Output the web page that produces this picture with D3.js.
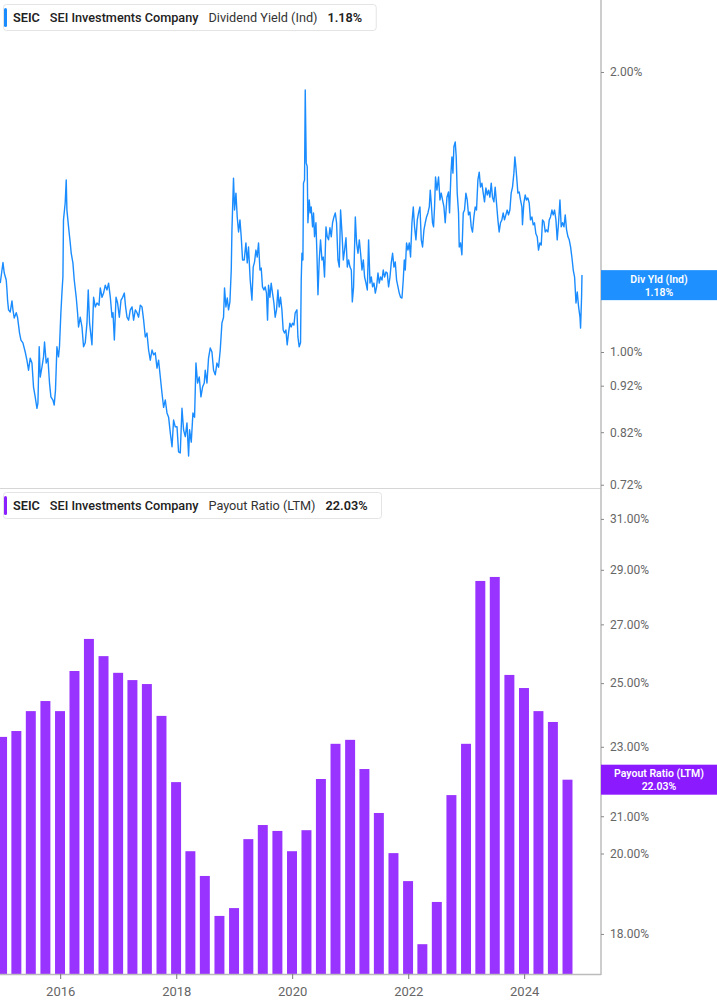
<!DOCTYPE html>
<html>
<head>
<meta charset="utf-8">
<script src="https://cdn.jsdelivr.net/npm/d3@7"></script>
<style>
  body { margin: 0; background: #fff; font-family: Roboto, "Noto Sans", sans-serif; }
</style>
</head>
<body>
<div id="chart"></div>
<script>
// dividend yield (Ind), % - dates as decimal years
const yieldT = [
  2014.966,2015.013,2015.035,2015.069,2015.082,2015.092,2015.109,2015.138,2015.168,2015.185,
  2015.207,2015.242,2015.264,2015.299,2015.323,2015.357,2015.397,2015.426,2015.454,2015.483,
  2015.513,2015.540,2015.569,2015.599,2015.616,2015.638,2015.656,2015.685,2015.713,2015.730,
  2015.759,2015.788,2015.816,2015.840,2015.875,2015.897,2015.919,2015.944,2015.971,2015.988,
  2016.012,2016.030,2016.047,2016.057,2016.086,2016.104,2016.116,2016.144,2016.173,2016.190,
  2016.219,2016.242,2016.276,2016.299,2016.316,2016.345,2016.375,2016.402,2016.431,2016.461,
  2016.483,2016.506,2016.547,2016.575,2016.604,2016.633,2016.668,2016.690,2016.720,2016.747,
  2016.776,2016.806,2016.833,2016.863,2016.892,2016.909,2016.932,2016.961,2016.988,2017.018,
  2017.047,2017.075,2017.104,2017.126,2017.150,2017.178,2017.207,2017.237,2017.264,2017.294,
  2017.323,2017.350,2017.380,2017.409,2017.437,2017.466,2017.495,2017.523,2017.552,2017.582,
  2017.609,2017.638,2017.668,2017.695,2017.725,2017.754,2017.782,2017.811,2017.840,2017.868,
  2017.897,2017.927,2017.954,2017.983,2018.013,2018.040,2018.069,2018.099,2018.126,2018.156,
  2018.185,2018.213,2018.230,2018.259,2018.288,2018.316,2018.340,2018.368,2018.397,2018.426,
  2018.454,2018.483,2018.500,2018.530,2018.557,2018.587,2018.616,2018.644,2018.673,2018.702,
  2018.730,2018.759,2018.788,2018.816,2018.833,2018.857,2018.880,2018.902,2018.926,2018.949,
  2018.961,2018.978,2018.988,2019.006,2019.030,2019.052,2019.075,2019.099,2019.121,2019.144,
  2019.173,2019.202,2019.225,2019.247,2019.276,2019.306,2019.328,2019.351,2019.375,2019.397,
  2019.420,2019.444,2019.466,2019.488,2019.513,2019.535,2019.557,2019.575,2019.592,2019.616,
  2019.638,2019.661,2019.685,2019.707,2019.730,2019.754,2019.776,2019.799,2019.823,2019.845,
  2019.868,2019.892,2019.914,2019.937,2019.961,2019.983,2020.006,2020.030,2020.052,2020.082,
  2020.099,2020.121,2020.144,2020.156,2020.168,2020.185,2020.195,2020.213,2020.225,2020.242,
  2020.259,2020.271,2020.294,2020.311,2020.328,2020.351,2020.368,2020.385,2020.409,2020.426,
  2020.444,2020.466,2020.488,2020.513,2020.535,2020.557,2020.582,2020.604,2020.626,2020.650,
  2020.673,2020.695,2020.719,2020.742,2020.764,2020.788,2020.811,2020.833,2020.857,2020.880,
  2020.902,2020.926,2020.949,2020.971,2020.995,2021.018,2021.035,2021.057,2021.087,2021.109,
  2021.133,2021.156,2021.178,2021.202,2021.225,2021.247,2021.271,2021.294,2021.316,2021.340,
  2021.363,2021.385,2021.409,2021.432,2021.454,2021.478,2021.500,2021.523,2021.547,2021.569,
  2021.592,2021.616,2021.638,2021.661,2021.685,2021.707,2021.730,2021.754,2021.776,2021.799,
  2021.823,2021.845,2021.868,2021.892,2021.914,2021.932,2021.949,2021.971,2021.995,2022.018,
  2022.040,2022.064,2022.087,2022.109,2022.133,2022.156,2022.178,2022.202,2022.225,2022.247,
  2022.271,2022.294,2022.316,2022.340,2022.363,2022.380,2022.397,2022.419,2022.437,2022.454,
  2022.471,2022.495,2022.523,2022.547,2022.569,2022.592,2022.616,2022.638,2022.668,2022.695,
  2022.713,2022.737,2022.754,2022.771,2022.788,2022.811,2022.828,2022.845,2022.868,2022.880,
  2022.902,2022.926,2022.949,2022.971,2022.995,2023.018,2023.040,2023.064,2023.087,2023.109,
  2023.133,2023.156,2023.178,2023.202,2023.225,2023.247,2023.271,2023.294,2023.316,2023.340,
  2023.363,2023.385,2023.409,2023.432,2023.454,2023.478,2023.500,2023.523,2023.547,2023.569,
  2023.592,2023.616,2023.638,2023.661,2023.685,2023.707,2023.730,2023.754,2023.776,2023.799,
  2023.823,2023.840,2023.857,2023.875,2023.892,2023.914,2023.937,2023.961,2023.971,2023.995,
  2024.018,2024.040,2024.064,2024.087,2024.109,2024.133,2024.156,2024.178,2024.202,2024.225,
  2024.247,2024.271,2024.294,2024.316,2024.340,2024.363,2024.385,2024.409,2024.432,2024.454,
  2024.478,2024.500,2024.523,2024.547,2024.569,2024.592,2024.616,2024.638,2024.661,2024.685,
  2024.707,2024.730,2024.754,2024.776,2024.799,2024.823,2024.845,2024.868,2024.892,2024.914,
  2024.937,2024.961,2024.971,2024.988,2024.995
];
const yieldValues = [
  1.186,1.248,1.216,1.195,1.166,1.137,1.110,1.104,1.135,1.110,
  1.088,1.102,1.090,1.048,1.030,1.023,1.000,0.980,0.956,0.985,
  0.973,0.917,0.895,0.870,0.881,1.013,0.940,0.963,0.988,1.025,
  0.973,0.985,0.926,0.895,0.888,0.877,0.910,1.013,0.988,1.013,
  1.102,1.157,1.204,1.387,1.446,1.531,1.421,1.363,1.310,1.277,
  1.247,1.195,1.145,1.102,1.064,1.090,1.064,1.013,1.023,1.074,
  1.166,1.074,1.018,1.145,1.118,1.129,1.123,1.172,1.145,1.157,
  1.180,1.166,1.186,1.145,1.090,1.102,1.030,1.145,1.129,1.090,
  1.137,1.145,1.157,1.118,1.090,1.082,1.110,1.118,1.082,1.110,
  1.102,1.090,1.123,1.118,1.082,1.038,1.048,1.005,0.980,1.005,
  0.993,0.998,0.961,0.980,0.940,0.903,0.872,0.888,0.860,0.851,
  0.819,0.791,0.845,0.831,0.831,0.781,0.779,0.870,0.825,0.811,
  0.839,0.773,0.825,0.800,0.860,0.851,0.973,0.926,0.940,0.895,
  0.917,0.926,0.956,0.926,0.985,1.010,1.000,0.956,0.945,0.973,
  0.963,1.005,1.074,1.090,1.172,1.118,1.143,1.110,1.132,1.225,
  1.353,1.467,1.538,1.421,1.482,1.397,1.346,1.387,1.330,1.256,
  1.256,1.310,1.247,1.297,1.195,1.137,1.234,1.250,1.287,1.265,
  1.310,1.225,1.231,1.175,1.166,1.175,1.157,1.082,1.180,1.145,
  1.186,1.157,1.129,1.090,1.110,1.166,1.118,1.145,1.110,1.056,
  1.048,1.056,1.018,1.048,1.074,1.064,1.074,1.069,1.102,1.110,
  1.038,1.013,1.023,1.195,1.277,1.256,1.519,1.531,1.913,1.597,
  1.582,1.377,1.457,1.411,1.432,1.363,1.411,1.330,1.377,1.277,
  1.152,1.256,1.320,1.256,1.265,1.204,1.363,1.330,1.320,1.360,
  1.330,1.377,1.397,1.411,1.377,1.256,1.234,1.421,1.343,1.256,
  1.287,1.327,1.234,1.256,1.234,1.225,1.132,1.175,1.397,1.310,
  1.277,1.320,1.277,1.225,1.256,1.204,1.186,1.166,1.320,1.186,
  1.204,1.175,1.186,1.157,1.175,1.216,1.186,1.204,1.195,1.225,
  1.204,1.219,1.216,1.175,1.204,1.247,1.277,1.234,1.250,1.195,
  1.175,1.157,1.145,1.143,1.195,1.256,1.225,1.310,1.287,1.310,
  1.265,1.377,1.432,1.363,1.320,1.387,1.411,1.432,1.320,1.297,
  1.353,1.377,1.397,1.411,1.432,1.493,1.446,1.377,1.363,1.432,
  1.542,1.493,1.542,1.457,1.482,1.457,1.432,1.377,1.467,1.486,
  1.411,1.557,1.621,1.557,1.662,1.682,1.621,1.482,1.411,1.297,
  1.310,1.272,1.411,1.421,1.482,1.457,1.404,1.414,1.363,1.346,
  1.397,1.432,1.421,1.531,1.561,1.504,1.519,1.482,1.450,1.501,
  1.475,1.493,1.467,1.519,1.467,1.450,1.504,1.446,1.387,1.346,
  1.377,1.387,1.411,1.387,1.404,1.421,1.404,1.421,1.482,1.504,
  1.557,1.621,1.582,1.531,1.482,1.486,1.457,1.432,1.370,1.446,
  1.475,1.457,1.464,1.446,1.387,1.397,1.370,1.377,1.340,1.330,
  1.287,1.310,1.303,1.387,1.380,1.346,1.353,1.346,1.387,1.397,
  1.421,1.404,1.421,1.387,1.320,1.377,1.457,1.363,1.377,1.363,
  1.404,1.353,1.330,1.320,1.297,1.262,1.225,1.204,1.129,1.160,
  1.118,1.090,1.061,1.145,1.210
];

// payout ratio (LTM), % - one bar per quarter end
const payoutQuarters = [
  "2014-12-31",
  "2015-03-31","2015-06-30","2015-09-30","2015-12-31",
  "2016-03-31","2016-06-30","2016-09-30","2016-12-31",
  "2017-03-31","2017-06-30","2017-09-30","2017-12-31",
  "2018-03-31","2018-06-30","2018-09-30","2018-12-31",
  "2019-03-31","2019-06-30","2019-09-30","2019-12-31",
  "2020-03-31","2020-06-30","2020-09-30","2020-12-31",
  "2021-03-31","2021-06-30","2021-09-30","2021-12-31",
  "2022-03-31","2022-06-30","2022-09-30","2022-12-31",
  "2023-03-31","2023-06-30","2023-09-30","2023-12-31",
  "2024-03-31","2024-06-30","2024-09-30"
];
const payoutValues = [
  23.30,
  23.48, 24.10, 24.42, 24.10,
  25.40, 26.49, 25.90, 25.34,
  25.10, 24.97, 23.95, 21.96,
  20.06, 19.42, 18.43, 18.62,
  20.38, 20.76, 20.60, 20.06,
  20.62, 22.05, 23.09, 23.21,
  22.34, 21.09, 20.01, 19.29,
  17.76, 18.77, 21.59, 23.09,
  28.58, 28.73, 25.27, 24.84,
  24.10, 23.76, 22.03
];

const yieldTicks = [0.72, 0.82, 0.92, 1.00, 2.00];
const payoutTicks = [18, 20, 21, 23, 25, 27, 29, 31];
const latestYield = 1.18;
const latestPayout = 22.03;

const blue = "#1a8cff";
const purple = "#9933ff";

const width = 717, height = 1005;
const plotW = 601;
const topY0 = 0, topY1 = 488, botY0 = 488, botY1 = 974;

function fromDecimalYear(t) {
  const yr = Math.floor(t);
  const a = new Date(yr, 0, 1), b = new Date(yr + 1, 0, 1);
  return new Date(a.getTime() + (t - yr) * (b - a));
}

const yieldData = yieldT.map((t, i) => ({date: fromDecimalYear(t), value: yieldValues[i]}));
const payoutData = payoutQuarters.map((q, i) => ({date: d3.isoParse(q), value: payoutValues[i]}));

const svg = d3.select("#chart").append("svg")
  .attr("width", width)
  .attr("height", height)
  .style("display", "block");

const x = d3.scaleTime()
  .domain([new Date(2014, 11, 18), new Date(2025, 3, 29)])
  .range([0, plotW]);
const yTop = d3.scaleLog().domain([0.7142, 2.390]).range([topY1, topY0]);
const yBot = d3.scaleLog().domain([17.08, 32.28]).range([botY1, botY0]);

// clip areas
const defs = svg.append("defs");
defs.append("clipPath").attr("id", "clipTop")
  .append("rect").attr("x", 0).attr("y", topY0).attr("width", plotW).attr("height", topY1 - topY0);
defs.append("clipPath").attr("id", "clipBot")
  .append("rect").attr("x", 0).attr("y", botY0).attr("width", plotW).attr("height", botY1 - botY0);

// bars
const barW = (x(new Date(2016, 3, 1)) - x(new Date(2016, 0, 1))) * 0.69;
svg.append("g").attr("clip-path", "url(#clipBot)")
  .selectAll("rect")
  .data(payoutData)
  .join("rect")
  .attr("x", d => x(d.date) - barW / 2)
  .attr("y", d => yBot(d.value))
  .attr("width", barW)
  .attr("height", d => botY1 - yBot(d.value))
  .attr("fill", purple);

// yield line
const line = d3.line().x(d => x(d.date)).y(d => yTop(d.value));
svg.append("g").attr("clip-path", "url(#clipTop)")
  .append("path")
  .datum(yieldData)
  .attr("d", line)
  .attr("fill", "none")
  .attr("stroke", blue)
  .attr("stroke-width", 1.4)
  .attr("stroke-linejoin", "round");

// frame lines
svg.append("line").attr("x1", 0).attr("x2", plotW).attr("y1", topY1 + 0.5).attr("y2", topY1 + 0.5)
  .attr("stroke", "#d6d6d6").attr("stroke-width", 1);
svg.append("line").attr("x1", plotW).attr("x2", plotW).attr("y1", 0).attr("y2", botY1 + 1)
  .attr("stroke", "#bcbcbc").attr("stroke-width", 1.5);

// right axes
function styleAxis(g) {
  g.select(".domain").remove();
  g.selectAll(".tick line").attr("stroke", "#888");
  g.selectAll(".tick text").attr("fill", "#666").style("font-size", "12px")
    .style("font-family", "Roboto, sans-serif");
}
svg.append("g")
  .attr("transform", `translate(${plotW},0)`)
  .call(d3.axisRight(yTop).tickValues(yieldTicks).tickFormat(d => d.toFixed(2) + "%").tickSize(3).tickPadding(6))
  .call(styleAxis);
svg.append("g")
  .attr("transform", `translate(${plotW},0)`)
  .call(d3.axisRight(yBot).tickValues(payoutTicks).tickFormat(d => d.toFixed(2) + "%").tickSize(3).tickPadding(6))
  .call(styleAxis);

// bottom time axis
const xAxis = svg.append("g")
  .attr("transform", `translate(0,${botY1})`)
  .call(d3.axisBottom(x).ticks(d3.timeYear.every(2)).tickFormat(d3.timeFormat("%Y")).tickSize(5).tickPadding(8));
xAxis.select(".domain").attr("stroke", "#bcbcbc").attr("stroke-width", 1.5)
  .attr("d", `M0,0.5H${plotW}`);
xAxis.selectAll(".tick line").attr("stroke", "#777");
xAxis.selectAll(".tick text").attr("fill", "#666").style("font-size", "13px")
  .style("font-family", "Roboto, sans-serif");

// value tags on the right axis
function tag(yPos, color, line1, line2) {
  const g = svg.append("g");
  g.append("rect").attr("x", plotW).attr("y", yPos - 15).attr("width", width - plotW).attr("height", 30)
    .attr("fill", color);
  const cx = plotW + (width - plotW) / 2;
  g.append("text").attr("x", cx).attr("y", yPos - 2.5).attr("text-anchor", "middle")
    .attr("fill", "#fff").style("font-size", "10.5px").style("font-weight", 600).text(line1);
  g.append("text").attr("x", cx).attr("y", yPos + 10.5).attr("text-anchor", "middle")
    .attr("fill", "#fff").style("font-size", "10.5px").style("font-weight", 600).text(line2);
}
tag(yTop(latestYield), "#1e90ff", "Div Yld (Ind)", latestYield.toFixed(2) + "%");
tag(yBot(latestPayout), "#8c1aff", "Payout Ratio (LTM)", latestPayout.toFixed(2) + "%");

// legends
function legend(yTopBox, color, parts) {
  const g = svg.append("g");
  const box = g.append("rect").attr("x", 3.5).attr("y", yTopBox + 0.5).attr("height", 26).attr("rx", 3)
    .attr("fill", "#fff").attr("stroke", "#e4e4e4");
  g.append("rect").attr("x", 4).attr("y", yTopBox + 4).attr("width", 3).attr("height", 19).attr("rx", 1.5)
    .attr("fill", color);
  let cx = 13;
  parts.forEach(p => {
    const t = g.append("text").attr("x", cx).attr("y", yTopBox + 18)
      .attr("fill", p.color || "#222")
      .style("font-size", "12.7px").style("font-weight", p.weight).text(p.text);
    cx += t.node().getComputedTextLength() + p.gap;
  });
  box.attr("width", cx - 3.5 + 2);
}
legend(4, "#1a8cff", [
  {text: "SEIC", weight: 600, gap: 10},
  {text: "SEI Investments Company", weight: 500, gap: 10},
  {text: "Dividend Yield (Ind)", weight: 400, gap: 10, color: "#333"},
  {text: latestYield.toFixed(2) + "%", weight: 600, gap: 12}
]);
legend(492, "#8a1fff", [
  {text: "SEIC", weight: 600, gap: 10},
  {text: "SEI Investments Company", weight: 500, gap: 10},
  {text: "Payout Ratio (LTM)", weight: 400, gap: 10, color: "#333"},
  {text: latestPayout.toFixed(2) + "%", weight: 600, gap: 12}
]);
</script>
</body>
</html>
